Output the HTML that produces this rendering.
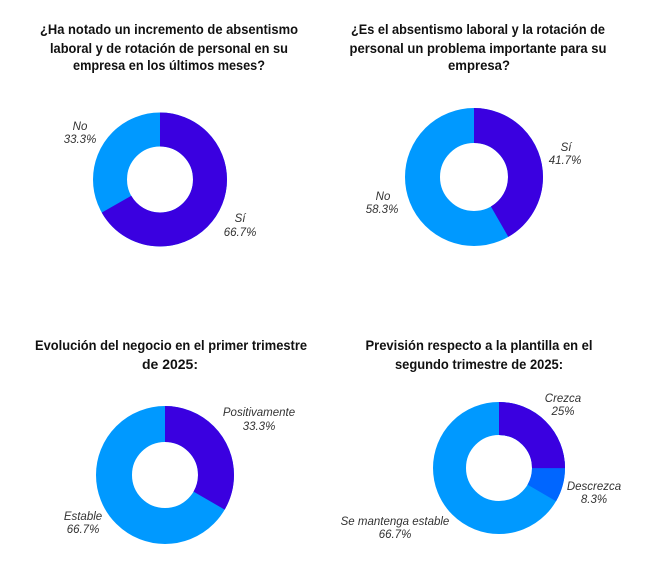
<!DOCTYPE html>
<html><head><meta charset="utf-8"><style>
body{margin:0;background:#fff}
svg{display:block}
.t{font-family:"Liberation Sans",sans-serif;font-weight:bold;font-size:14px;fill:#111}
.l{font-family:"Liberation Sans",sans-serif;font-style:italic;font-size:11.5px;fill:#333}
</style></head><body>
<svg width="650" height="582" xmlns="http://www.w3.org/2000/svg">
<rect width="650" height="582" fill="#fff"/>
<g class="t">
<text x="169" y="34" text-anchor="middle" textLength="258" lengthAdjust="spacingAndGlyphs">¿Ha notado un incremento de absentismo</text>
<text x="169" y="53" text-anchor="middle" textLength="238" lengthAdjust="spacingAndGlyphs">laboral y de rotación de personal en su</text>
<text x="169" y="70" text-anchor="middle" textLength="192" lengthAdjust="spacingAndGlyphs">empresa en los últimos meses?</text>
<text x="478" y="34" text-anchor="middle" textLength="254" lengthAdjust="spacingAndGlyphs">¿Es el absentismo laboral y la rotación de</text>
<text x="478" y="53" text-anchor="middle" textLength="257" lengthAdjust="spacingAndGlyphs">personal un problema importante para su</text>
<text x="479" y="70" text-anchor="middle" textLength="62" lengthAdjust="spacingAndGlyphs">empresa?</text>
<text x="171" y="350" text-anchor="middle" textLength="272" lengthAdjust="spacingAndGlyphs">Evolución del negocio en el primer trimestre</text>
<text x="170" y="369" text-anchor="middle">de 2025:</text>
<text x="479" y="350" text-anchor="middle" textLength="227" lengthAdjust="spacingAndGlyphs">Previsión respecto a la plantilla en el</text>
<text x="479" y="369" text-anchor="middle" textLength="168" lengthAdjust="spacingAndGlyphs">segundo trimestre de 2025:</text>
</g>
<g transform="translate(160,179.5)">
<circle r="50" fill="none" stroke="#0099ff" stroke-width="34"/>
<circle r="50" fill="none" stroke="#3a00e0" stroke-width="34" stroke-dasharray="209.44 400" transform="rotate(-90)"/>
</g>
<g transform="translate(474,177)">
<circle r="51.5" fill="none" stroke="#0099ff" stroke-width="35"/>
<circle r="51.5" fill="none" stroke="#3a00e0" stroke-width="35" stroke-dasharray="134.8 400" transform="rotate(-90)"/>
</g>
<g transform="translate(165,475)">
<circle r="51" fill="none" stroke="#0099ff" stroke-width="36"/>
<circle r="51" fill="none" stroke="#3a00e0" stroke-width="36" stroke-dasharray="106.8 400" transform="rotate(-90)"/>
</g>
<g transform="translate(499,468)">
<circle r="49.5" fill="none" stroke="#0099ff" stroke-width="33"/>
<circle r="49.5" fill="none" stroke="#0066ff" stroke-width="33" stroke-dasharray="103.7 400" transform="rotate(-90)"/>
<circle r="49.5" fill="none" stroke="#3a00e0" stroke-width="33" stroke-dasharray="77.75 400" transform="rotate(-90)"/>
</g>
<g class="l" text-anchor="middle">
<text x="80" y="130">No</text><text x="80" y="143">33.3%</text>
<text x="240" y="222">Sí</text><text x="240" y="236">66.7%</text>
<text x="566" y="151">Sí</text><text x="565" y="164">41.7%</text>
<text x="383" y="200">No</text><text x="382" y="213">58.3%</text>
<text x="259" y="416">Positivamente</text><text x="259" y="430">33.3%</text>
<text x="83" y="520">Estable</text><text x="83" y="533">66.7%</text>
<text x="563" y="402">Crezca</text><text x="563" y="415">25%</text>
<text x="594" y="490">Descrezca</text><text x="594" y="503">8.3%</text>
<text x="395" y="525">Se mantenga estable</text><text x="395" y="538">66.7%</text>
</g>
</svg>
</body></html>
